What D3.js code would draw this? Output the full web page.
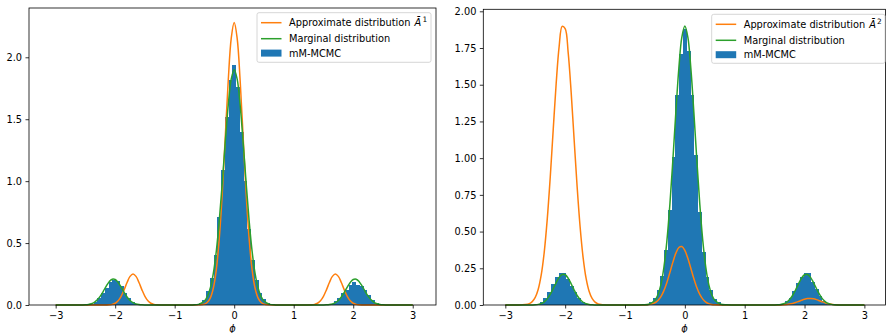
<!doctype html>
<html lang="en">
<head>
<meta charset="utf-8">
<script src="https://d3js.org/d3.v7.min.js"></script>
<style>
  body { margin: 0; background: #fff; }
  text { font-family: "DejaVu Sans", sans-serif; font-size: 9.8px; fill: #000; }
</style>
</head>
<body>
<script>
// grid of phi values the density curves are sampled on
var phi = [
  -3.0, -2.8,
  -2.6, -2.55, -2.5, -2.45, -2.4, -2.35, -2.3, -2.25, -2.2, -2.15, -2.1, -2.05, -2.0,
  -1.95, -1.9, -1.85, -1.8, -1.75, -1.7, -1.65, -1.6, -1.55, -1.5, -1.45, -1.4, -1.35, -1.3,
  -1.2, -1.0, -0.8, -0.7, -0.6,
  -0.5, -0.45, -0.4, -0.35, -0.3, -0.25, -0.2, -0.15, -0.1, -0.05,
  0,
  0.05, 0.1, 0.15, 0.2, 0.25, 0.3, 0.35, 0.4, 0.45, 0.5,
  0.6, 0.7, 0.8, 1.0, 1.2,
  1.3, 1.35, 1.4, 1.45, 1.5, 1.55, 1.6, 1.65, 1.7, 1.75, 1.8, 1.85, 1.9, 1.95,
  2.0, 2.05, 2.1, 2.15, 2.2, 2.25, 2.3, 2.35, 2.4, 2.45, 2.5, 2.55, 2.6,
  2.8, 3.0];

// approximate distribution A1 (left panel)
var approx1 = [
  0, 0,
  0, 0, 0, 0, 0, 0, 0, 0, 0, 0.0004, 0.0015, 0.005, 0.014,
  0.034, 0.070, 0.122, 0.182, 0.231, 0.25, 0.231, 0.182, 0.122, 0.070, 0.034, 0.014, 0.005, 0.0015,
  0, 0, 0, 0, 0.001,
  0.007, 0.022, 0.058, 0.137, 0.288, 0.542, 0.909, 1.359, 1.812, 2.153,
  2.28,
  2.153, 1.812, 1.359, 0.909, 0.542, 0.288, 0.137, 0.058, 0.022, 0.007,
  0.001, 0, 0, 0, 0,
  0.0015, 0.005, 0.014, 0.034, 0.070, 0.122, 0.182, 0.231, 0.25, 0.231, 0.182, 0.122, 0.070, 0.034,
  0.014, 0.005, 0.0015, 0.0004, 0, 0, 0, 0, 0, 0, 0, 0, 0,
  0, 0];

// approximate distribution A2 (right panel)
var approx2 = [
  0, 0.0001,
  0.0095, 0.0231, 0.0518, 0.1072, 0.2044, 0.3589, 0.5810, 0.8667, 1.1917, 1.5098, 1.7631, 1.8976, 1.8821,
  1.7205, 1.4493, 1.1254, 0.8053, 0.5310, 0.3228, 0.1807, 0.0933, 0.0444, 0.0195, 0.0079, 0.0029, 0.0010, 0.0003,
  0, 0, 0, 0.0004, 0.0028,
  0.0152, 0.0308, 0.0574, 0.0981, 0.1538, 0.2213, 0.2918, 0.3530, 0.3916, 0.3984,
  0.3718,
  0.3182, 0.2498, 0.1798, 0.1187, 0.0718, 0.0399, 0.0203, 0.0095, 0.0041, 0.0016,
  0.0002, 0, 0, 0, 0,
  0, 0, 0, 0, 0.0001, 0.0003, 0.0007, 0.0016, 0.0032, 0.0061, 0.0105, 0.0166, 0.0241, 0.0321,
  0.0391, 0.0438, 0.0449, 0.0423, 0.0365, 0.0289, 0.0210, 0.0140, 0.0085, 0.0048, 0.0025, 0.0012, 0.0005,
  0, 0];

// marginal distribution (same in both panels)
var marginal = [
  0, 0,
  0.0002, 0.0005, 0.0015, 0.0042, 0.0100, 0.0216, 0.0416, 0.0716, 0.1105, 0.1525, 0.1883, 0.2081, 0.2058,
  0.1822, 0.1443, 0.1022, 0.0648, 0.0368, 0.0187, 0.0085, 0.0035, 0.0013, 0.0004, 0.0001, 0, 0, 0,
  0, 0, 0, 0.001, 0.005,
  0.032, 0.070, 0.139, 0.257, 0.437, 0.685, 0.989, 1.316, 1.614, 1.824,
  1.90,
  1.824, 1.614, 1.316, 0.989, 0.685, 0.437, 0.257, 0.139, 0.070, 0.032,
  0.005, 0.001, 0, 0, 0,
  0, 0, 0, 0.0001, 0.0004, 0.0013, 0.0035, 0.0085, 0.0187, 0.0368, 0.0648, 0.1022, 0.1443, 0.1822,
  0.2058, 0.2081, 0.1883, 0.1525, 0.1105, 0.0716, 0.0416, 0.0216, 0.0100, 0.0042, 0.0015, 0.0005, 0.0002,
  0, 0];

// mM-MCMC histograms, bins of width 0.063 starting at -2.52 (centers)
var binStart = -2.52, binWidth = 0.063;
var histLeft = [
  0.002, 0.006, 0.012, 0.025, 0.055, 0.095, 0.14, 0.185, 0.205, 0.19, 0.15, 0.10, 0.055, 0.025, 0.01, 0.004, 0.001,
  0, 0, 0, 0, 0, 0, 0, 0, 0, 0, 0, 0, 0,
  0.005, 0.02, 0.04, 0.11, 0.215, 0.40, 0.71, 1.09, 1.52, 1.82, 1.94, 1.76, 1.40, 1.00, 0.61, 0.36, 0.20, 0.10, 0.05, 0.02, 0.005,
  0, 0, 0, 0, 0, 0, 0, 0, 0, 0, 0, 0, 0,
  0.001, 0.004, 0.01, 0.03, 0.06, 0.095, 0.125, 0.16, 0.185, 0.165, 0.155, 0.12, 0.08, 0.04, 0.02, 0.008, 0.003];
var histRight = [
  0.003, 0.009, 0.022, 0.05, 0.09, 0.14, 0.19, 0.215, 0.215, 0.175, 0.13, 0.09, 0.05, 0.02, 0.008, 0.003, 0.001,
  0, 0, 0, 0, 0, 0, 0, 0, 0, 0, 0, 0, 0,
  0.008, 0.02, 0.05, 0.10, 0.20, 0.375, 0.65, 1.01, 1.43, 1.71, 1.88, 1.73, 1.43, 1.02, 0.63, 0.36, 0.19, 0.10, 0.04, 0.02, 0.008,
  0, 0, 0, 0, 0, 0, 0, 0, 0, 0, 0, 0, 0,
  0.001, 0.004, 0.01, 0.025, 0.05, 0.095, 0.15, 0.19, 0.22, 0.215, 0.16, 0.11, 0.06, 0.03, 0.012, 0.005, 0.002];

var xTicks = [-3, -2, -1, 0, 1, 2, 3];
var yTicksLeft = [0, 0.5, 1.0, 1.5, 2.0];
var yTicksRight = [0, 0.25, 0.5, 0.75, 1.0, 1.25, 1.5, 1.75, 2.0];
var legendLabels = ["Approximate distribution", "Marginal distribution", "mM-MCMC"];

var blue = "#1f77b4", orange = "#ff7f0e", green = "#2ca02c";

var svg = d3.select("body").append("svg")
  .attr("width", 886).attr("height", 333);

var panels = [
  {left: 29, right: 436, top: 8, bottom: 305, xdom: [-3.448, 3.391], ydom: [0, 2.398],
   yticks: yTicksLeft, fmt: ".1f", approx: approx1, hist: histLeft, sup: "1",
   legend: {x: 257, y: 12.7, w: 174, h: 49.6}},
  {left: 483.3, right: 885.5, top: 9.3, bottom: 305, xdom: [-3.368, 3.353], ydom: [0, 2.0136],
   yticks: yTicksRight, fmt: ".2f", approx: approx2, hist: histRight, sup: "2",
   legend: {x: 711.7, y: 14.3, w: 173.4, h: 49}}
];

panels.forEach(function(p) {
  var x = d3.scaleLinear().domain(p.xdom).range([p.left, p.right]);
  var y = d3.scaleLinear().domain(p.ydom).range([p.bottom, p.top]);
  var g = svg.append("g");

  // histogram
  var bins = p.hist.map(function(v, i) { return {c: binStart + i * binWidth, v: v}; })
    .filter(function(d) { return d.v > 0; });
  g.selectAll(".bar").data(bins).enter().append("rect")
    .attr("class", "bar")
    .attr("x", function(d) { return x(d.c - binWidth / 2); })
    .attr("width", function(d) { return x(d.c + binWidth / 2) - x(d.c - binWidth / 2); })
    .attr("y", function(d) { return y(d.v); })
    .attr("height", function(d) { return y(0) - y(d.v); })
    .attr("fill", blue)
    .attr("shape-rendering", "crispEdges");

  var line = d3.line()
    .x(function(d, i) { return x(phi[i]); })
    .y(function(d) { return y(d); })
    .curve(d3.curveCatmullRom);

  g.append("path").datum(p.approx).attr("d", line)
    .attr("fill", "none").attr("stroke", orange).attr("stroke-width", 1.5);
  g.append("path").datum(marginal).attr("d", line)
    .attr("fill", "none").attr("stroke", green).attr("stroke-width", 1.5);

  // axes
  var xAxis = g.append("g")
    .attr("transform", "translate(0," + p.bottom + ")")
    .call(d3.axisBottom(x).tickValues(xTicks).tickFormat(d3.format("d"))
      .tickSize(3.5).tickPadding(3.4).tickSizeOuter(0));
  var yAxis = g.append("g")
    .attr("transform", "translate(" + p.left + ",0)")
    .call(d3.axisLeft(y).tickValues(p.yticks).tickFormat(d3.format(p.fmt))
      .tickSize(3.5).tickPadding(3.4).tickSizeOuter(0));
  [xAxis, yAxis].forEach(function(a) {
    a.select(".domain").remove();
    a.selectAll("line").attr("stroke", "#000").attr("stroke-width", 0.8);
    a.selectAll("text").attr("font-family", null).attr("font-size", null);
  });

  g.append("rect")
    .attr("x", p.left).attr("y", p.top)
    .attr("width", p.right - p.left).attr("height", p.bottom - p.top)
    .attr("fill", "none").attr("stroke", "#000").attr("stroke-width", 0.8);

  g.append("text")
    .attr("x", (p.left + p.right) / 2).attr("y", 331.5)
    .attr("text-anchor", "middle")
    .style("font-style", "italic")
    .text("\u03d5");

  // legend
  var L = p.legend;
  var lg = g.append("g").attr("transform", "translate(" + L.x + "," + L.y + ")");
  lg.append("rect").attr("width", L.w).attr("height", L.h).attr("rx", 2)
    .attr("fill", "#fff").attr("fill-opacity", 0.8)
    .attr("stroke", "#cccccc").attr("stroke-width", 0.8);
  var rows = [10, 26, 40.4];
  lg.append("line").attr("x1", 4).attr("x2", 24.5).attr("y1", rows[0]).attr("y2", rows[0])
    .attr("stroke", orange).attr("stroke-width", 1.5);
  lg.append("line").attr("x1", 4).attr("x2", 24.5).attr("y1", rows[1]).attr("y2", rows[1])
    .attr("stroke", green).attr("stroke-width", 1.5);
  lg.append("rect").attr("x", 4).attr("y", rows[2] - 3.5).attr("width", 20.5).attr("height", 7)
    .attr("fill", blue);
  var t0 = lg.append("text").attr("x", 32).attr("y", rows[0] + 3.6);
  t0.append("tspan").text(legendLabels[0]);
  t0.append("tspan").attr("dx", 4).style("font-style", "italic").text("\u0100");
  t0.append("tspan").attr("font-size", "7.4px").attr("dx", 1.2).attr("dy", -4.2).text(p.sup);
  lg.append("text").attr("x", 32).attr("y", rows[1] + 3.6).text(legendLabels[1]);
  lg.append("text").attr("x", 32).attr("y", rows[2] + 3.6).text(legendLabels[2]);
});
</script>
</body>
</html>
